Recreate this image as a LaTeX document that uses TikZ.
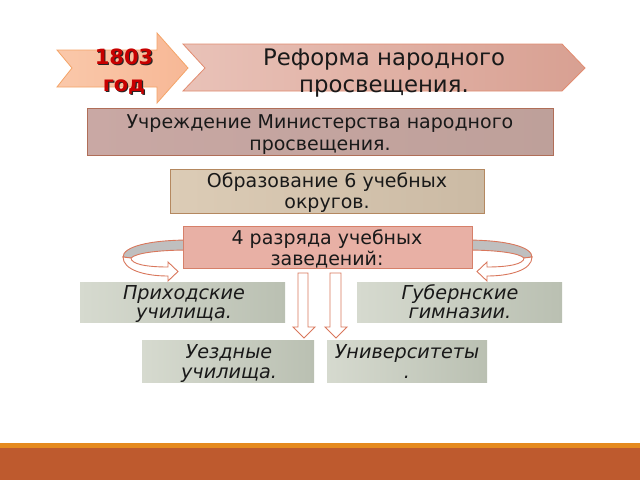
\documentclass[tikz,border=0pt]{standalone}
\usepackage{fontspec}
\setmainfont{DejaVu Sans}
\begin{document}
\begin{tikzpicture}[x=1pt,y=-1pt,
  txt/.style={align=center,anchor=base,inner sep=0pt,text=black!90},
  big/.style={font=\fontsize{22.8}{26.5}\selectfont},
  mid/.style={font=\fontsize{19}{21.5}\selectfont},
  ital/.style={font=\fontsize{19.2}{19.5}\selectfont\itshape},
  boxline/.style={line width=0.8pt},
  barrow/.style={fill=white,draw=arrowc,line width=0.9pt,line join=miter},
  garrow/.style={fill={rgb,255:red,191;green,191;blue,191},draw=arrowc,line width=0.9pt}
]
\definecolor{arrowc}{HTML}{D9775C}
\useasboundingbox (0,0) rectangle (640,480);
\fill[white] (0,0) rectangle (640,480);
% bottom bar
\fill[fill={rgb,255:red,229;green,138;blue,31}] (0,443) rectangle (640,448);
\fill[fill={rgb,255:red,190;green,90;blue,46}] (0,448) rectangle (640,480);
% 1803 chevron
\shade[left color={rgb,255:red,250;green,200;blue,170},right color={rgb,255:red,247;green,184;blue,150}]
 (57,50) -- (157,50) -- (157,33) -- (188,68) -- (157,103) -- (157,87) -- (57,87) -- (72,68) -- cycle;
\draw[draw={rgb,255:red,244;green,164;blue,104},line width=0.8pt,line join=miter]
 (57,50) -- (157,50) -- (157,33) -- (188,68) -- (157,103) -- (157,87) -- (57,87) -- (72,68) -- cycle;
\node[txt,font=\fontsize{21}{27.4}\selectfont\bfseries,text=black!85] (yrs) at (125.2,92.9) {1803\\год};
\node[txt,font=\fontsize{21}{27.4}\selectfont\bfseries,text={rgb,255:red,200;green,0;blue,0}] (yr) at (124,91.7) {1803\\год};
% title chevron
\shade[left color={rgb,255:red,233;green,194;blue,184},right color={rgb,255:red,216;green,160;blue,146}]
 (183,44) -- (562,44) -- (585,68) -- (562,91) -- (183,91) -- (205,68) -- cycle;
\draw[draw={rgb,255:red,226;green,140;blue,112},line width=0.8pt,line join=miter]
 (183,44) -- (562,44) -- (585,68) -- (562,91) -- (183,91) -- (205,68) -- cycle;
\node[txt,big] (title) at (384,92) {Реформа народного\\просвещения.};
% box 1
\shade[left color={rgb,255:red,201;green,168;blue,164},right color={rgb,255:red,190;green,160;blue,154}] (87,108) rectangle (553,155);
\draw[boxline,draw={rgb,255:red,176;green,110;blue,88}] (87,108) rectangle (553,155);
\node[txt,mid] (b1) at (320,150) {Учреждение Министерства народного\\просвещения.};
% box 2
\shade[left color={rgb,255:red,220;green,204;blue,182},right color={rgb,255:red,203;green,186;blue,164}] (170,169) rectangle (484,213);
\draw[boxline,draw={rgb,255:red,180;green,136;blue,96}] (170,169) rectangle (484,213);
\node[txt,mid] (b2) at (327,208.5) {Образование 6 учебных\\округов.};
% curved arrows
\begin{scope}
 \draw[garrow]
  (190,240) .. controls (148,240) and (123,247) .. (123,257) -- (131,258) .. controls (136,253) and (158,250) .. (190,250) -- cycle;
 \draw[barrow] (123,257) .. controls (123,270) and (145,276) .. (168,276) -- (168,281) -- (178,271.5) -- (168,262) -- (168,267) .. controls (146,267) and (131,264) .. (131,258) -- cycle;
\end{scope}
\begin{scope}[xshift=655pt,xscale=-1]
 \draw[garrow]
  (190,240) .. controls (148,240) and (123,247) .. (123,257) -- (131,258) .. controls (136,253) and (158,250) .. (190,250) -- cycle;
 \draw[barrow] (123,257) .. controls (123,270) and (145,276) .. (168,276) -- (168,281) -- (178,271.5) -- (168,262) -- (168,267) .. controls (146,267) and (131,264) .. (131,258) -- cycle;
\end{scope}
% box 3
\fill[fill={rgb,255:red,232;green,176;blue,165}] (183,226) rectangle (472,268);
\draw[boxline,draw={rgb,255:red,214;green,128;blue,106}] (183,226) rectangle (472,268);
\node[txt,mid] (b3) at (327,265.5) {4 разряда учебных\\заведений:};
% down arrows
\draw[barrow] (298,273) -- (308,273) -- (308,327) -- (315,327) -- (304,338) -- (293,327) -- (298,327) -- cycle;
\draw[barrow] (330,273) -- (341,273) -- (341,327) -- (347,327) -- (336,338) -- (325,327) -- (330,327) -- cycle;
% grey boxes
\tikzset{gbox/.style={left color={rgb,255:red,214;green,218;blue,207},right color={rgb,255:red,186;green,192;blue,178}}}
\shade[gbox] (80,282) rectangle (285,322);
\shade[gbox] (357,282) rectangle (562,322);
\shade[gbox] (142,340) rectangle (314,382);
\shade[gbox] (327,340) rectangle (487,382);
\node[txt,ital] (p1) at (184,318.5) {Приходские\\училища.};
\node[txt,ital] (p2) at (460,318.5) {Губернские\\гимназии.};
\node[txt,ital] (p3) at (229,378) {Уездные\\училища.};
\node[txt,ital] (p4) at (407,378) {Университеты\\.};
\end{tikzpicture}
\end{document}
